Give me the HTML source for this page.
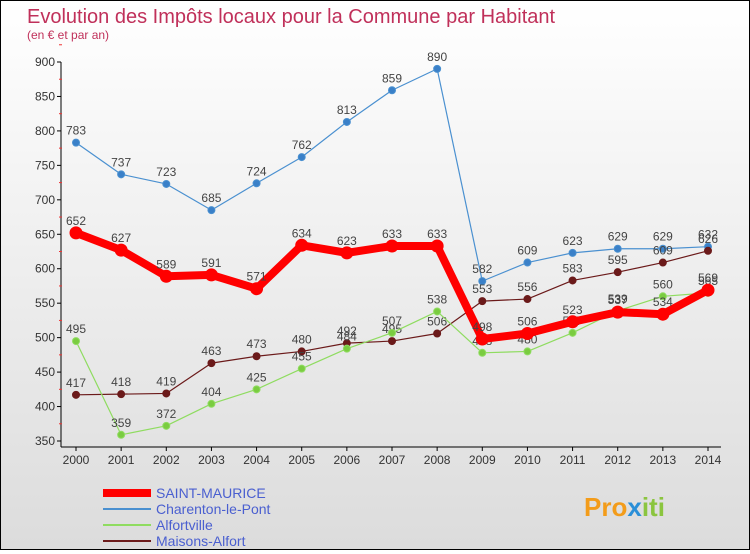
<!DOCTYPE html>
<html><head><meta charset="utf-8"><style>
body{margin:0;width:750px;height:550px;overflow:hidden;font-family:"Liberation Sans",sans-serif}
#wrap{position:relative;width:748px;height:548px;border:1px solid #000;background:linear-gradient(#fff,#dcdcdc)}
</style></head><body>
<div id="wrap">
<svg id="svg" width="748" height="548" xmlns="http://www.w3.org/2000/svg">
<text x="26" y="22" font-size="20" fill="#c0305a">Evolution des Impôts locaux pour la Commune par Habitant</text>
<text x="26" y="38" font-size="12" fill="#c0305a">(en € et par an)</text>
<g id="axes"></g><g id="series"></g>
<g>
<line x1="102" y1="492" x2="150" y2="492" stroke="#f00" stroke-width="8"/>
<text x="155" y="497" font-size="14" fill="#4a5fd0">SAINT-MAURICE</text>
<line x1="102" y1="508" x2="150" y2="508" stroke="#4a90d0" stroke-width="2"/>
<text x="155" y="513" font-size="14" fill="#4a5fd0">Charenton-le-Pont</text>
<line x1="102" y1="524" x2="150" y2="524" stroke="#8fdc60" stroke-width="2"/>
<text x="155" y="529" font-size="14" fill="#4a5fd0">Alfortville</text>
<line x1="102" y1="540" x2="150" y2="540" stroke="#6b1a1a" stroke-width="2"/>
<text x="155" y="545" font-size="14" fill="#4a5fd0">Maisons-Alfort</text>
</g>
<text x="583" y="515" font-size="26" font-weight="bold" fill="#f39c1a">Pro<tspan fill="#2a8fd8">x</tspan><tspan fill="#8bc53f">iti</tspan></text>
</svg></div>
<script>
const years=[2000,2001,2002,2003,2004,2005,2006,2007,2008,2009,2010,2011,2012,2013,2014];
const saintMaurice=[652,627,589,591,571,634,623,633,633,498,506,523,537,534,569];
const charenton=[783,737,723,685,724,762,813,859,890,582,609,623,629,629,632];
const alfortville=[495,359,372,404,425,455,484,507,538,478,480,507,539,560,565];
const maisons=[417,418,419,463,473,480,492,495,506,553,556,583,595,609,626];
const yTicks=[350,400,450,500,550,600,650,700,750,800,850,900];
const NS="http://www.w3.org/2000/svg";
const x=i=>75+i*(632/14);
const y=v=>440-(v-350)*(379/550);
function mk(t,a,p){const e=document.createElementNS(NS,t);for(const k in a)e.setAttribute(k,a[k]);p.appendChild(e);return e;}
const ax=document.getElementById('axes');
const yl=mk('line',{x1:60,y1:61,x2:60,y2:446,stroke:'#000'},ax);


const xl=mk('line',{x1:60,y1:446,x2:720,y2:446,stroke:'#000'},ax);


yTicks.forEach(v=>{
 mk('line',{x1:56,y1:y(v),x2:60,y2:y(v),stroke:'#000'},ax);
 mk('line',{x1:58,y1:y(v+25),x2:61,y2:y(v+25),stroke:'#e33'},ax);
 const t=mk('text',{x:54,y:y(v)+4,'font-size':12,fill:'#333','text-anchor':'end'},ax);t.textContent=v;
 
 
});
years.forEach((yr,i)=>{
 mk('line',{x1:x(i),y1:446,x2:x(i),y2:450,stroke:'#000'},ax);
 const t=mk('text',{x:x(i),y:463,'font-size':12,fill:'#333','text-anchor':'middle'},ax);t.textContent=yr;
 
 
});
const sg=document.getElementById('series');
function draw(data,name,color,w,r,dot){
 const g=mk('g',{},sg);
 
 
 const l=mk('polyline',{points:data.map((v,i)=>x(i)+','+y(v)).join(' '),fill:'none',stroke:color,'stroke-width':w,'stroke-linejoin':'round'},g);
 
 
 data.forEach((v,i)=>{
  const c=mk('circle',{cx:x(i),cy:y(v),r:r,fill:dot,stroke:color,'stroke-width':1},g);
  
  
  const t=mk('text',{x:x(i),y:y(v)-8,'font-size':12,fill:'#444','text-anchor':'middle'},g);
  t.textContent=v;
  
  
 });
}
draw(charenton,'charenton','#4a90d0',1.2,3.5,'#3a80c8');
draw(maisons,'maisons-alfort','#6b1a1a',1.2,3.5,'#6b1a1a');
draw(alfortville,'alfortville','#8fdc60',1.2,3.5,'#7acc40');
draw(saintMaurice,'saint-maurice','#f00',8,6,'#f00');
</script>
</body></html>
